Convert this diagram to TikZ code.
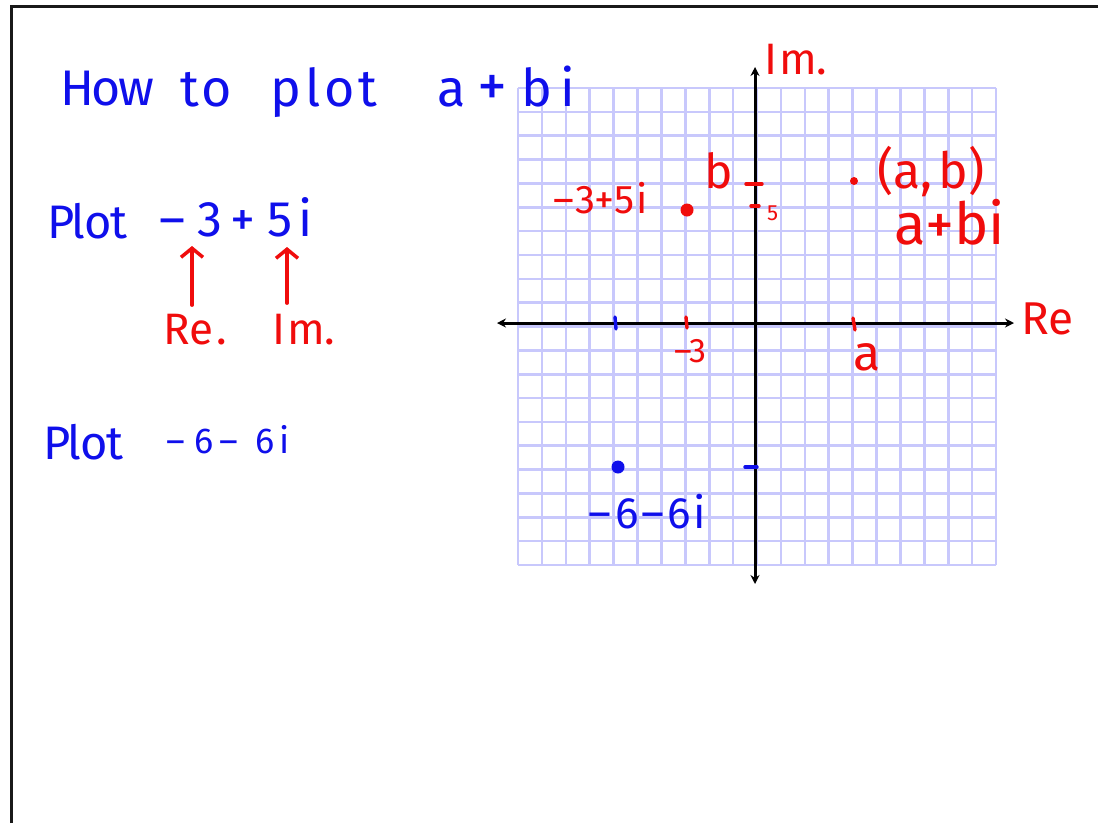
\documentclass[tikz,border=0pt]{standalone}
\usepackage{fontspec}
\setmainfont{Fira Sans}
\usetikzlibrary{arrows.meta}
\definecolor{hblue}{RGB}{15,15,235}
\definecolor{hred}{RGB}{240,12,12}
\definecolor{gridc}{RGB}{200,200,252}
\newcommand{\fs}[1]{\fontsize{#1}{#1}\selectfont}
\newcommand{\gp}[1]{\kern#1pt\relax}
\tikzset{
  txt/.style={inner sep=0pt, anchor=base west},
  bluetxt/.style={txt, text=hblue},
  redtxt/.style={txt, text=hred},
  axis/.style={line width=3pt, black, {Stealth[length=9pt,width=9pt]}-{Stealth[length=9pt,width=9pt]}},
  tickmark/.style={line width=3.4pt, line cap=round},
  redarrow/.style={hred, line width=3.8pt, line cap=round, -{Straight Barb[length=9pt,width=22pt,line width=3.5pt]}},
  dotmark/.style={circle, inner sep=0pt}
}
\begin{document}
\begin{tikzpicture}[x=1pt,y=-1pt]
\useasboundingbox (0,0) rectangle (1098,823);
\fill[white] (0,0) rectangle (1098,823);
% frame
\draw[line width=3pt, black!90] (11,823) -- (11,6) -- (1098,6);
% grid
\foreach \i in {0,...,20} {
  \draw[gridc, line width=2.6pt] ({518+23.9*\i},88) -- ({518+23.9*\i},565);
  \draw[gridc, line width=2.6pt] (518,{88+23.85*\i}) -- (996,{88+23.85*\i});
}
% axes
\coordinate (xl) at (497,323);
\coordinate (xr) at (1014,323);
\coordinate (yb) at (755,584);
\coordinate (yt) at (755,67);
\draw[axis] (xl) -- (xr);
\draw[axis] (yb) -- (yt);
% title
\node[bluetxt, font=\fs{50}] (how) at (60,105) {H\gp{-3}o\gp{-2}w};
\node[bluetxt, font=\fs{52}] (to) at (180,106) {t\gp{3}o};
\node[bluetxt, font=\fs{52}] (plot) at (270,106) {p\gp{4}l\gp{4}o\gp{4}t};
\node[bluetxt, font=\fs{52}] (apb) at (437,106) {a\gp{12}{\fs{60}+}\gp{14}b\gp{8}i};
% Plot -3+5i
\node[bluetxt, font=\fs{47}] (plot1) at (47,238) {P\gp{-3}l\gp{-1}o\gp{-1}t};
\node[bluetxt, font=\fs{50}] (m3) at (159,236) {–\gp{12}3};
\node[bluetxt, font=\fs{50}] (p5i) at (230,236) {+\gp{12}5\gp{6}i};
\node[redtxt, font=\fs{44}] (re1) at (163,344) {Re\gp{3}.};
\node[redtxt, font=\fs{44}] (im1) at (272,344) {I\gp{2}m.};
\coordinate (a1t) at (192,246);
\coordinate (a1b) at (192,305);
\coordinate (a2t) at (287,247);
\coordinate (a2b) at (287,303);
\draw[redarrow] (a1b) -- (a1t);
\draw[redarrow] (a2b) -- (a2t);
% Plot -6-6i
\node[bluetxt, font=\fs{47}] (plot2) at (43,459) {P\gp{-3}l\gp{-1}o\gp{-1}t};
\node[bluetxt, font=\fs{36}] (m6) at (166,453) {–\gp{10}6\gp{5}–\gp{18}6\gp{5}i};
% graph labels
\node[redtxt, font=\fs{44}] (imlab) at (764,74) {I\gp{2}m.};
\node[redtxt, font=\fs{46}] (relab) at (1021,334) {Re};
\node[redtxt, font=\fs{40}] (pt1lab) at (553,213) {–\gp{1}3+5\gp{2}i};
\node[redtxt, font=\fs{48}] (blab) at (704,188) {b};
\node[redtxt, font=\fs{22}] (fivelab) at (767,220) {5};
\node[redtxt, font=\fs{50}] (ablab) at (877,188) {(a,\gp{6}b)};
\node[redtxt, font=\fs{58}] (abilab) at (894,244) {a+bi};
\node[redtxt, font=\fs{34}] (m3lab) at (674,362) {–3};
\node[redtxt, font=\fs{50}] (alab) at (853,370) {a};
\node[bluetxt, font=\fs{44}] (m6lab) at (588,528) {–\gp{4}6\gp{3}–\gp{3}6\gp{3}i};
% dots
\node[dotmark, fill=hred, minimum size=13pt] (d1) at (687,210) {};
\node[dotmark, fill=hred, minimum size=8pt] (d2) at (854,181) {};
\node[dotmark, fill=hblue, minimum size=13pt] (d3) at (618,467) {};
% ticks on x axis
\draw[tickmark, hblue] (615,317) -- (616,329);
\draw[tickmark, hred] (686,317) -- (687,328);
\draw[tickmark, hred] (853,318) -- (855,330);
% ticks on y axis
\draw[tickmark, hred] (746,184) -- (762,184);
\draw[tickmark, hred] (751,206) -- (759,206);
\draw[tickmark, hblue] (745,467) -- (757,467);
\end{tikzpicture}
\end{document}
